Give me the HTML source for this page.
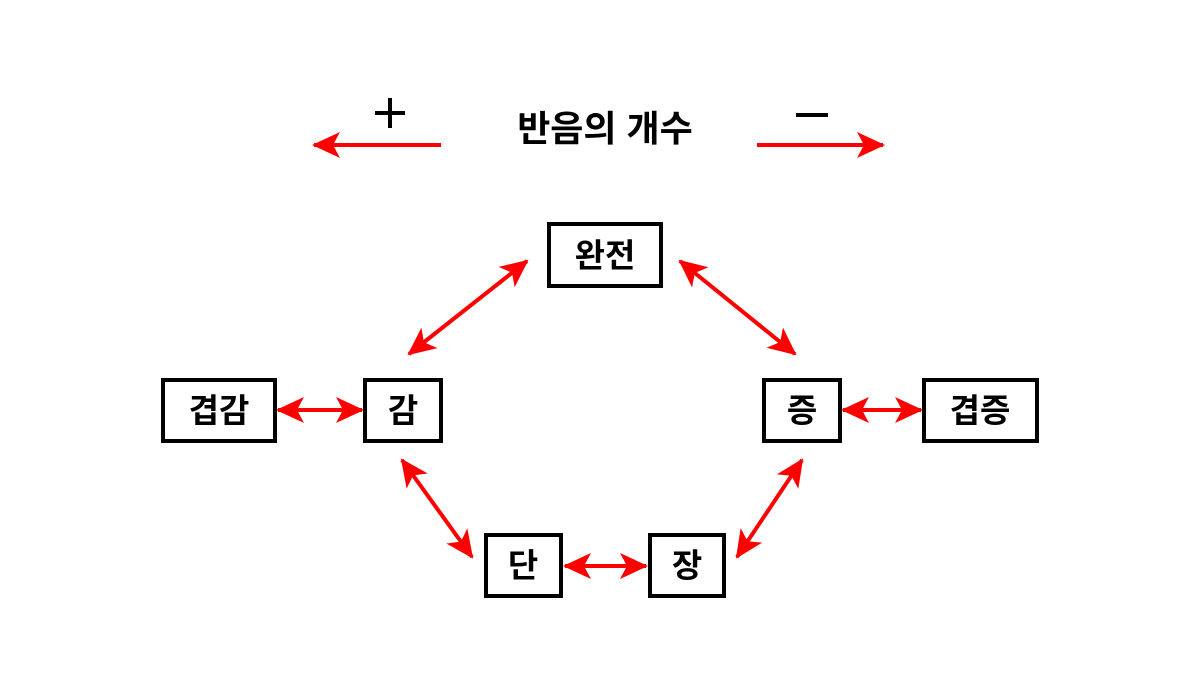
<!DOCTYPE html>
<html><head><meta charset="utf-8"><style>
body{margin:0;background:#fff;width:1200px;height:675px;overflow:hidden}
svg text{font-family:"Liberation Sans","Noto Sans CJK KR",sans-serif;font-weight:bold;fill:#000}
</style></head><body>
<svg width="1200" height="675" viewBox="0 0 1200 675" xmlns="http://www.w3.org/2000/svg">
<defs>
<marker id="h" viewBox="0 0 28 26" refX="26" refY="13" markerWidth="28" markerHeight="26" markerUnits="userSpaceOnUse" orient="auto-start-reverse">
<path d="M0,0 L28,13 L0,26 L7,13 Z" fill="#f00"/>
</marker>
</defs>
<g stroke="#f00" stroke-width="4" fill="none">
<line x1="441" y1="145" x2="314" y2="145" marker-end="url(#h)"/>
<line x1="757" y1="145" x2="883" y2="145" marker-end="url(#h)"/>
<line x1="527" y1="261" x2="409" y2="354" marker-start="url(#h)" marker-end="url(#h)"/>
<line x1="680" y1="261" x2="795" y2="354" marker-start="url(#h)" marker-end="url(#h)"/>
<line x1="278" y1="410" x2="362" y2="410" marker-start="url(#h)" marker-end="url(#h)"/>
<line x1="843" y1="410" x2="921" y2="410" marker-start="url(#h)" marker-end="url(#h)"/>
<line x1="402" y1="460" x2="472" y2="557" marker-start="url(#h)" marker-end="url(#h)"/>
<line x1="802" y1="460" x2="737" y2="557" marker-start="url(#h)" marker-end="url(#h)"/>
<line x1="565" y1="566" x2="646" y2="566" marker-start="url(#h)" marker-end="url(#h)"/>
</g>
<g stroke="#000" stroke-width="4" fill="#fff">
<rect x="549" y="224" width="112" height="62"/>
<rect x="365" y="380" width="76" height="61"/>
<rect x="163" y="380" width="112" height="61"/>
<rect x="764" y="380" width="76" height="61"/>
<rect x="924" y="380" width="113" height="61"/>
<rect x="486" y="535" width="75" height="61"/>
<rect x="650" y="535" width="74" height="61"/>
</g>
<g font-size="33" text-anchor="middle">
<text x="605" y="267">완전</text>
<text x="403" y="422">감</text>
<text x="219" y="422">겹감</text>
<text x="802" y="422">증</text>
<text x="980" y="422">겹증</text>
<text x="523" y="577">단</text>
<text x="687" y="577">장</text>
</g>
<text x="605" y="141" font-size="36" text-anchor="middle">반음의 개수</text>
<g stroke="#000" stroke-width="4">
<line x1="375" y1="113" x2="405" y2="113"/>
<line x1="390" y1="98" x2="390" y2="128"/>
<line x1="796" y1="115" x2="828" y2="115"/>
</g>
</svg>
</body></html>
